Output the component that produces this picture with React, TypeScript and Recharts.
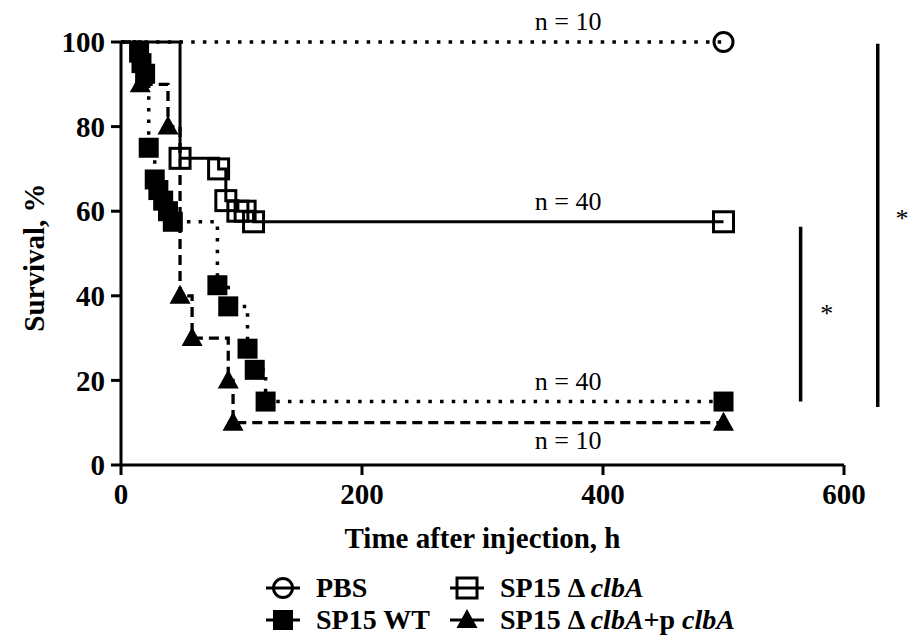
import React from 'react';
import { LineChart, Line, XAxis, YAxis, ReferenceLine, ReferenceDot, Legend, Label } from 'recharts';

const FONT = '"Liberation Serif", "Times New Roman", serif';

const timeTicks = [0, 200, 400, 600];
const survivalTicks = [0, 20, 40, 60, 80, 100];

const pbsTimes = [0, 500];
const pbsSurvival = [100, 100];

const clbATimes = [0, 49, 81, 87, 97, 103, 110, 500];
const clbASurvival = [100, 72.5, 70, 62.5, 60, 60, 57.5, 57.5];

const wtTimes = [0, 15, 17, 20, 23, 28, 31, 35, 39, 43, 80, 89, 105, 111, 120, 500];
const wtSurvival = [100, 97.5, 95, 92.5, 75, 67.5, 65, 62.5, 60, 57.5, 42.5, 37.5, 27.5, 22.5, 15, 15];

const compTimes = [0, 16, 39, 49, 59, 89, 93, 500];
const compSurvival = [100, 90, 80, 40, 30, 20, 10, 10];

const nLabelTexts = ['n = 10', 'n = 40', 'n = 40', 'n = 10'];
const nLabelSurvival = [100, 57.5, 15, 10];
const nLabelTime = 371;
const nLabelBelow = [false, false, false, true];

const sigTimes = [564, 628];
const sigLow = [15, 13.7];
const sigHigh = [56.3, 99.6];
const starTimes = [585.6, 648.2];
const starSurvival = [37, 59.6];

const toData = (ts: number[], vs: number[]) => ts.map((t, i) => ({ t, v: vs[i] }));

const pbsData = toData(pbsTimes, pbsSurvival);
const clbAData = toData(clbATimes, clbASurvival);
const wtData = toData(wtTimes, wtSurvival);
const compData = toData(compTimes, compSurvival);

type Shape = 'circle' | 'openSquare' | 'square' | 'triangle';

const drawShape = (shape: Shape, cx: number, cy: number, key?: string) => {
  switch (shape) {
    case 'circle':
      return <circle key={key} cx={cx} cy={cy} r={9.5} fill="none" stroke="#000" strokeWidth={3} />;
    case 'openSquare':
      return <rect key={key} x={cx - 10} y={cy - 10} width={20} height={20} fill="none" stroke="#000" strokeWidth={3} />;
    case 'square':
      return <rect key={key} x={cx - 10} y={cy - 10} width={20} height={20} fill="#000" />;
    case 'triangle':
      return <polygon key={key} points={`${cx},${cy - 11} ${cx - 10.5},${cy + 8} ${cx + 10.5},${cy + 8}`} fill="#000" />;
  }
};

const makeMarker = (shape: Shape) => (props: any) => {
  const { cx, cy, index } = props;
  const key = `${shape}-${index}`;
  if (index === 0 || cx == null || cy == null) return <g key={key} />;
  return drawShape(shape, cx, cy, key);
};

const legendNames: React.ReactNode[] = [
  'PBS',
  <>SP15 Δ <i>clbA</i></>,
  'SP15 WT',
  <>SP15 Δ <i>clbA</i>+p <i>clbA</i></>,
];
const legendShapes: Shape[] = ['circle', 'openSquare', 'square', 'triangle'];
const legendSymbolX = [283, 467, 283, 467];
const legendTextX = [316, 500, 316, 500];
const legendRowY = [23, 23, 55, 55];

const renderLegend = () => (
  <div style={{ position: 'relative', width: 910, height: 72, fontFamily: FONT, fontWeight: 'bold', fontSize: 28, color: '#000' }}>
    {legendNames.map((name, i) => (
      <React.Fragment key={i}>
        <svg width={36} height={32} style={{ position: 'absolute', left: legendSymbolX[i] - 18, top: legendRowY[i] - 16 }}>
          <line x1={1} y1={16} x2={35} y2={16} stroke="#000" strokeWidth={3} />
          {drawShape(legendShapes[i], 18, 16)}
        </svg>
        <span style={{ position: 'absolute', left: legendTextX[i], top: legendRowY[i] - 16, lineHeight: '32px', whiteSpace: 'nowrap' }}>
          {name}
        </span>
      </React.Fragment>
    ))}
  </div>
);

const tickStyle = { fill: '#000', fontSize: 29, fontWeight: 'bold' as const, fontFamily: FONT };

export default function App() {
  return (
    <div style={{ position: 'absolute', left: 0, top: 0, width: 910, height: 637, background: '#fff' }}>
      <LineChart width={910} height={637} margin={{ top: 42, right: 66, left: 41, bottom: 132 }}>
        <XAxis
          type="number"
          dataKey="t"
          domain={[0, 600]}
          ticks={timeTicks}
          interval={0}
          height={40}
          tickSize={10}
          tickMargin={8}
          axisLine={{ stroke: '#000', strokeWidth: 3 }}
          tickLine={{ stroke: '#000', strokeWidth: 3 }}
          tick={tickStyle}
        >
          <Label
            content={(p: any) => {
              const vb = p.viewBox;
              return (
                <text x={vb.x + vb.width / 2} y={vb.y + 83} textAnchor="middle" fontFamily={FONT} fontWeight="bold" fontSize={29} fill="#000">
                  Time after injection, h
                </text>
              );
            }}
          />
        </XAxis>
        <YAxis
          type="number"
          domain={[0, 100]}
          ticks={survivalTicks}
          interval={0}
          width={80}
          tickSize={10}
          tickMargin={6}
          axisLine={{ stroke: '#000', strokeWidth: 3 }}
          tickLine={{ stroke: '#000', strokeWidth: 3 }}
          tick={tickStyle}
        >
          <Label
            content={(p: any) => {
              const vb = p.viewBox;
              const x = vb.x + 3;
              const y = vb.y + vb.height / 2 + 4;
              return (
                <text x={x} y={y} transform={`rotate(-90, ${x}, ${y})`} textAnchor="middle" fontFamily={FONT} fontWeight="bold" fontSize={29} fill="#000">
                  Survival, %
                </text>
              );
            }}
          />
        </YAxis>

        <Line data={pbsData} dataKey="v" type="stepAfter" stroke="#000" strokeWidth={3.5} strokeDasharray="3.5 8.2" dot={makeMarker('circle')} activeDot={false} isAnimationActive={false} legendType="none" />
        <Line data={compData} dataKey="v" type="stepAfter" stroke="#000" strokeWidth={3.3} strokeDasharray="10 6" dot={makeMarker('triangle')} activeDot={false} isAnimationActive={false} legendType="none" />
        <Line data={wtData} dataKey="v" type="stepAfter" stroke="#000" strokeWidth={3.5} strokeDasharray="3.5 8.2" dot={makeMarker('square')} activeDot={false} isAnimationActive={false} legendType="none" />
        <Line data={clbAData} dataKey="v" type="stepAfter" stroke="#000" strokeWidth={3} dot={makeMarker('openSquare')} activeDot={false} isAnimationActive={false} legendType="none" />

        {nLabelTexts.map((txt, i) => (
          <ReferenceDot
            key={`n-${i}`}
            x={nLabelTime}
            y={nLabelSurvival[i]}
            r={0}
            fill="none"
            stroke="none"
            ifOverflow="visible"
            label={(p: any) => {
              const vb = p.viewBox;
              return (
                <text x={vb.x + vb.width / 2} y={vb.y + (nLabelBelow[i] ? 26.5 : -12)} textAnchor="middle" fontFamily={FONT} fontSize={26} fill="#000">
                  {txt}
                </text>
              );
            }}
          />
        ))}

        {sigTimes.map((t, i) => (
          <ReferenceLine
            key={`sig-${i}`}
            segment={[{ x: t, y: sigLow[i] }, { x: t, y: sigHigh[i] }]}
            stroke="#000"
            strokeWidth={3.5}
            ifOverflow="visible"
          />
        ))}
        {starTimes.map((t, i) => (
          <ReferenceDot
            key={`star-${i}`}
            x={t}
            y={starSurvival[i]}
            r={0}
            fill="none"
            stroke="none"
            ifOverflow="visible"
            label={(p: any) => {
              const vb = p.viewBox;
              return (
                <text x={vb.x + vb.width / 2} y={vb.y + 14} textAnchor="middle" fontFamily={FONT} fontSize={26} fill="#000">
                  *
                </text>
              );
            }}
          />
        ))}

        <Legend
          layout="horizontal"
          verticalAlign="middle"
          align="center"
          content={renderLegend}
          wrapperStyle={{ position: 'absolute', left: 0, top: 565, width: 910, height: 72 }}
        />
      </LineChart>
    </div>
  );
}
